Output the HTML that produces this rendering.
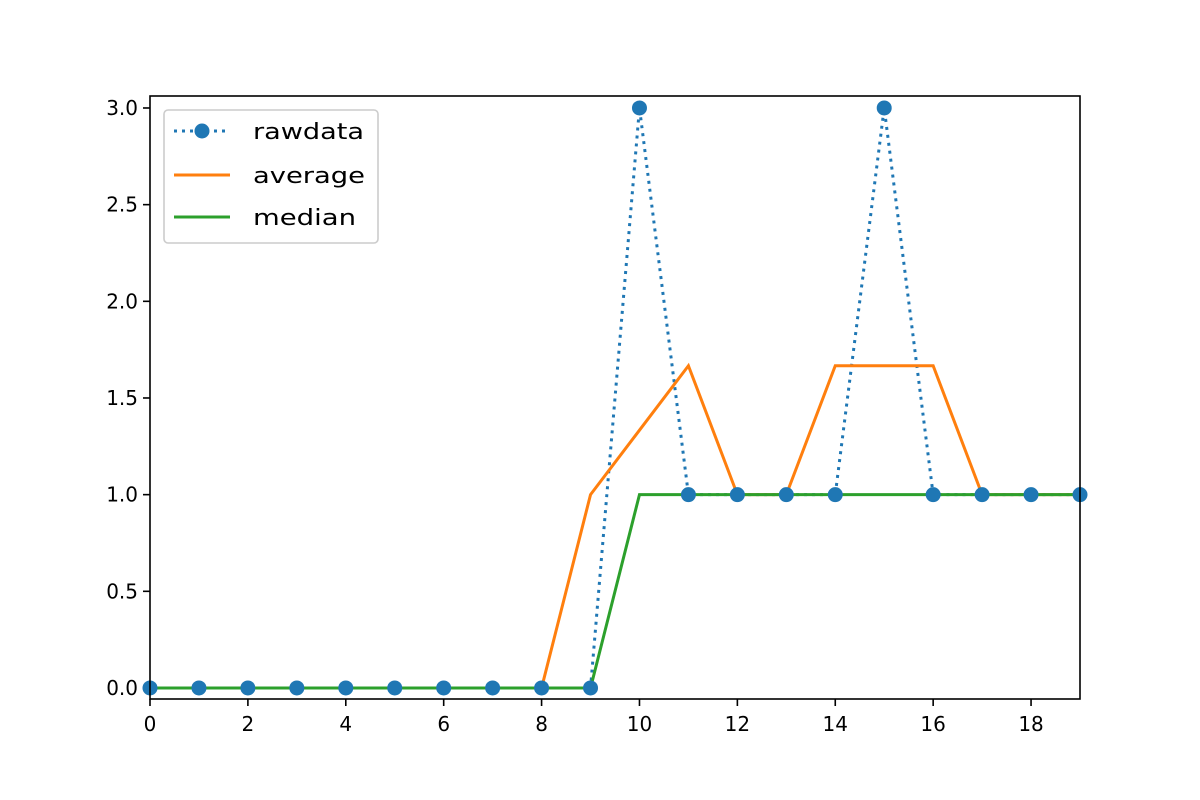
<!DOCTYPE html>
<html><head><meta charset="utf-8"><style>body{margin:0;background:#fff}svg{display:block;font-family:"DejaVu Sans","Liberation Sans",sans-serif}</style></head>
<body>
<svg width="1200" height="800">
<g id="plot"></g>
</svg>
<script>
const xs=[0,1,2,3,4,5,6,7,8,9,10,11,12,13,14,15,16,17,18,19];
const rawdata=[0,0,0,0,0,0,0,0,0,0,3,1,1,1,1,3,1,1,1,1];
const average=[0,0,0,0,0,0,0,0,0,1,1.3333,1.6667,1,1,1.6667,1.6667,1.6667,1,1,1];
const median=[0,0,0,0,0,0,0,0,0,0,1,1,1,1,1,1,1,1,1,1];
const xTicks=[0,2,4,6,8,10,12,14,16,18];
const yTicks=[0,0.5,1,1.5,2,2.5,3];
const yTickLabels=["0.0","0.5","1.0","1.5","2.0","2.5","3.0"];
const L=150,R=1080,T=96,B=699,xmin=0,xmax=19,ymin=-0.057,ymax=3.062;
const X=v=>L+(v-xmin)/(xmax-xmin)*(R-L);
const Y=v=>B-(v-ymin)/(ymax-ymin)*(B-T);
const g=document.getElementById('plot');
const NS='http://www.w3.org/2000/svg';
function mk(t,a,p){const e=document.createElementNS(NS,t);for(const k in a)e.setAttribute(k,a[k]);(p||g).appendChild(e);return e;}
xTicks.forEach(v=>{
 mk('line',{x1:X(v),x2:X(v),y1:B,y2:B+7,stroke:'#000','stroke-width':1.6});
 const t=mk('text',{x:X(v),y:B+32,'text-anchor':'middle','font-size':20});t.textContent=v;
 
 
});
yTicks.forEach((v,i)=>{
 mk('line',{x1:L-7,x2:L,y1:Y(v),y2:Y(v),stroke:'#000','stroke-width':1.6});
 const t=mk('text',{x:L-12,y:Y(v)+7,'text-anchor':'end','font-size':20});t.textContent=yTickLabels[i];
 
 
});
function pts(arr){return arr.map((v,i)=>X(xs[i])+','+Y(v)).join(' ');}
const lr=mk('polyline',{points:pts(rawdata),fill:'none',stroke:'#1f77b4','stroke-width':3,'stroke-dasharray':'3,5'});


const la=mk('polyline',{points:pts(average),fill:'none',stroke:'#ff7f0e','stroke-width':3});


const lm=mk('polyline',{points:pts(median),fill:'none',stroke:'#2ca02c','stroke-width':3});


rawdata.forEach((v,i)=>{
 const c=mk('circle',{cx:X(xs[i]),cy:Y(v),r:7.5,fill:'#1f77b4'});
 
 
});
mk('rect',{x:L,y:T,width:R-L,height:B-T,fill:'none',stroke:'#000','stroke-width':1.6});
const lg=mk('g',{});


mk('rect',{x:164,y:110,width:214,height:133,rx:4,fill:'#fff','fill-opacity':0.8,stroke:'#ccc','stroke-width':1.6},lg);
mk('line',{x1:174,x2:230,y1:131,y2:131,stroke:'#1f77b4','stroke-width':3,'stroke-dasharray':'3,5'},lg);
mk('circle',{cx:202,cy:131,r:7.5,fill:'#1f77b4'},lg);
mk('line',{x1:174,x2:230,y1:175,y2:175,stroke:'#ff7f0e','stroke-width':3},lg);
mk('line',{x1:174,x2:230,y1:217,y2:217,stroke:'#2ca02c','stroke-width':3},lg);
[['rawdata',139,111],['average',183,112],['median',225,103]].forEach(([s,y,w])=>{const t=mk('text',{x:253,y:y,'font-size':22,textLength:w,lengthAdjust:'spacingAndGlyphs'},lg);t.textContent=s;});
</script>
</body></html>
